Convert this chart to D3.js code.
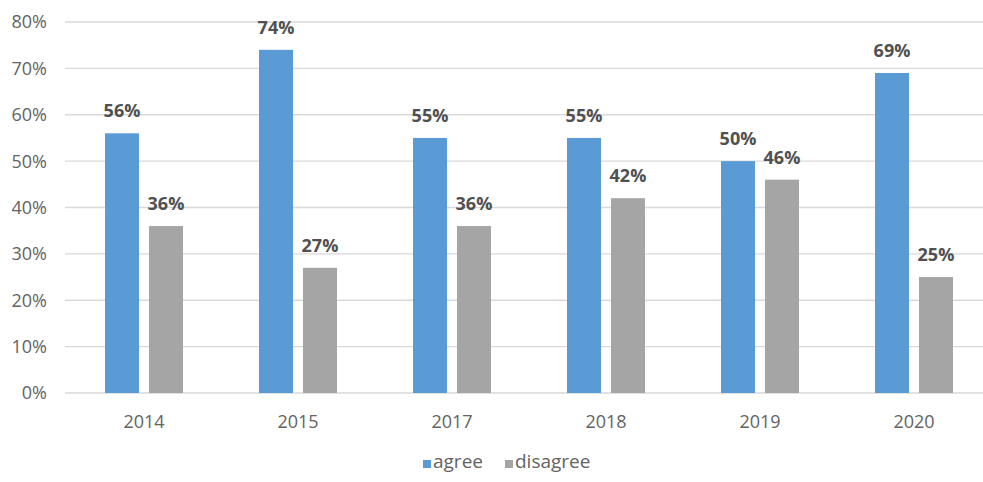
<!DOCTYPE html>
<html>
<head>
<meta charset="utf-8">
<script src="https://cdn.jsdelivr.net/npm/d3@7"></script>
<style>
  body { margin: 0; background: #fff; }
  svg { display: block; font-family: 'Open Sans', sans-serif; }
</style>
</head>
<body>
<svg id="chart" width="983" height="482"></svg>
<script>
'use strict';

// chart data
const years = ['2014', '2015', '2017', '2018', '2019', '2020'];
const series = ['agree', 'disagree'];
const agree = [56, 74, 55, 55, 50, 69];
const disagree = [36, 27, 36, 42, 46, 25];
const yTicks = [0, 10, 20, 30, 40, 50, 60, 70, 80];

const colors = {agree: '#5b9bd5', disagree: '#a5a5a5'};
const values = {agree: agree, disagree: disagree};

const svg = d3.select('#chart');
const width = 983;

const x0 = d3.scaleBand().domain(years).range([67, 991]);
const x1 = d3.scaleBand().domain(series)
    .range([38, 116])
    .paddingInner(0.227);
const y = d3.scaleLinear().domain([0, 80]).range([393, 22]);

// gridlines
svg.append('g')
    .selectAll('line')
    .data(yTicks)
    .enter().append('line')
    .attr('x1', 65)
    .attr('x2', width)
    .attr('y1', function(d) { return y(d); })
    .attr('y2', function(d) { return y(d); })
    .attr('stroke', '#d9d9d9')
    .attr('stroke-width', 1.3);

// y tick labels
svg.append('g')
    .selectAll('text')
    .data(yTicks)
    .enter().append('text')
    .attr('x', 47)
    .attr('y', function(d) { return y(d); })
    .attr('dy', '0.36em')
    .attr('text-anchor', 'end')
    .attr('fill', '#636363')
    .style('font-size', '18px')
    .text(function(d) { return d + '%'; });

// bars
const groups = svg.append('g')
    .selectAll('g')
    .data(years)
    .enter().append('g')
    .attr('transform', function(d) { return 'translate(' + x0(d) + ',0)'; });

series.forEach(function(s) {
    groups.append('rect')
        .attr('x', x1(s))
        .attr('width', x1.bandwidth())
        .attr('y', function(d, i) { return y(values[s][i]); })
        .attr('height', function(d, i) { return y(0) - y(values[s][i]); })
        .attr('fill', colors[s]);

    groups.append('text')
        .attr('x', x1(s) + x1.bandwidth() / 2)
        .attr('y', function(d, i) { return y(values[s][i]) - 16; })
        .attr('text-anchor', 'middle')
        .attr('fill', '#505050')
        .style('font-size', '18px')
        .style('font-weight', 'bold')
        .text(function(d, i) { return values[s][i] + '%'; });
});

// x labels
svg.append('g')
    .selectAll('text')
    .data(years)
    .enter().append('text')
    .attr('x', function(d) { return x0(d) + x0.bandwidth() / 2; })
    .attr('y', 428)
    .attr('text-anchor', 'middle')
    .attr('fill', '#636363')
    .style('font-size', '18px')
    .text(function(d) { return d; });

// legend
const legendX = [423, 505];
const legend = svg.append('g')
    .selectAll('g')
    .data(series)
    .enter().append('g')
    .attr('transform', function(d, i) { return 'translate(' + legendX[i] + ',460)'; });

legend.append('rect')
    .attr('width', 8)
    .attr('height', 8)
    .attr('fill', function(d) { return colors[d]; });

legend.append('text')
    .attr('x', 10)
    .attr('y', 8)
    .attr('fill', '#636363')
    .style('font-size', '19px')
    .text(function(d) { return d; });
</script>
</body>
</html>
